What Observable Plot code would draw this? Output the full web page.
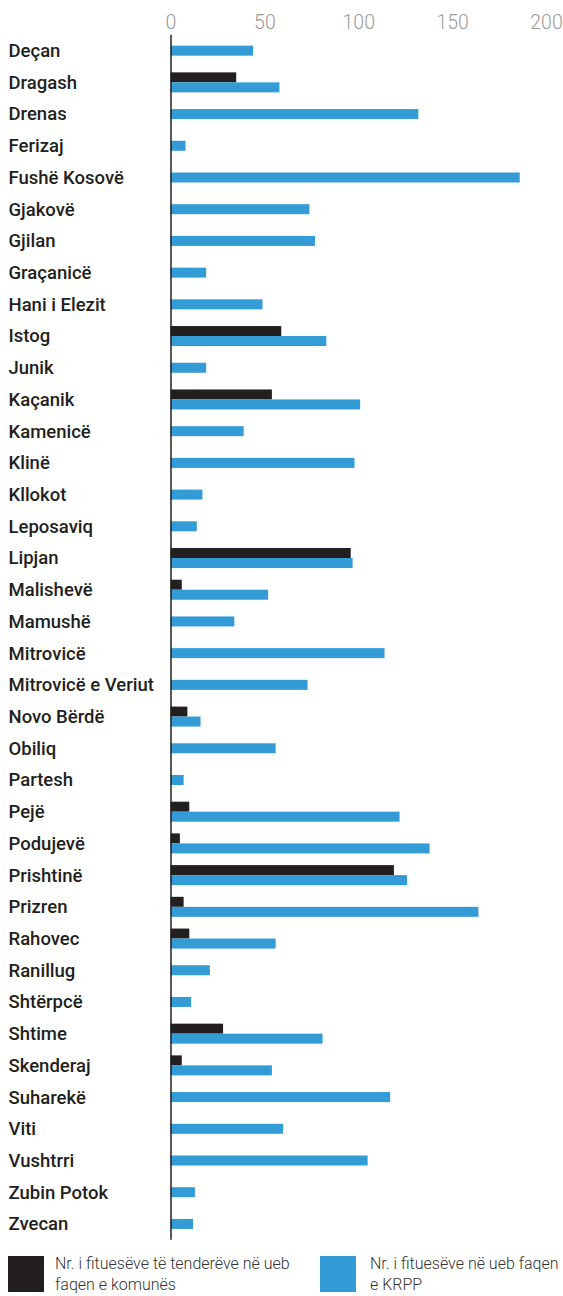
<!DOCTYPE html>
<html>
<head>
<meta charset="utf-8">
<script src="https://cdn.jsdelivr.net/npm/d3@7"></script>
<script src="https://cdn.jsdelivr.net/npm/@observablehq/plot@0.6"></script>
<style>
  body { margin: 0; background: #fff; font-family: Roboto, sans-serif; }
  #chart { width: 563px; }
  #chart svg { display: block; }
  .legend { position: relative; width: 563px; height: 50px; }
  .item { position: absolute; top: 11px; }
  .sw { position: absolute; left: 0; top: 0; width: 36px; height: 36px; }
  .lt { position: absolute; top: -2px; font-family: Roboto, sans-serif; font-weight: 300; font-size: 16px; line-height: 20.5px; color: #333; white-space: nowrap; }
</style>
</head>
<body>
<div id="chart"></div>
<div class="legend" id="legend"></div>
<script>
const municipalities = ["Deçan","Dragash","Drenas","Ferizaj","Fushë Kosovë","Gjakovë","Gjilan","Graçanicë","Hani i Elezit","Istog","Junik","Kaçanik","Kamenicë","Klinë","Kllokot","Leposaviq","Lipjan","Malishevë","Mamushë","Mitrovicë","Mitrovicë e Veriut","Novo Bërdë","Obiliq","Partesh","Pejë","Podujevë","Prishtinë","Prizren","Rahovec","Ranillug","Shtërpcë","Shtime","Skenderaj","Suharekë","Viti","Vushtrri","Zubin Potok","Zvecan"];
const komunaValues = [null,35,null,null,null,null,null,null,null,59,null,54,null,null,null,null,96,6,null,null,null,9,null,null,10,5,119,7,10,null,null,28,6,null,null,null,null,null];
const krppValues = [44,58,132,8,186,74,77,19,49,83,19,101,39,98,17,14,97,52,34,114,73,16,56,7,122,138,126,164,56,21,11,81,54,117,60,105,13,12];
const xTicks = [0,50,100,150,200];
const seriesNames = ["Nr. i fituesëve të tenderëve në ueb<br>faqen e komunës", "Nr. i fituesëve në ueb faqen<br>e KRPP"];
const seriesColors = ["#231f20", "#339bd6"];

const rows = municipalities.map((m, i) => ({m, komuna: komunaValues[i], krpp: krppValues[i]}));
const withBlack = rows.filter(r => r.komuna != null);
const blueOnly = rows.filter(r => r.komuna == null);

const step = 31.71;
const plotTop = 34.8;
const bottomEdge = plotTop + municipalities.length * step;
const H = Math.ceil(bottomEdge) + 5;
const inset = (step - 10) / 2;

const chart = Plot.plot({
  width: 563,
  height: H,
  marginLeft: 170.5,
  marginRight: 17,
  marginTop: plotTop,
  marginBottom: H - bottomEdge,
  x: {domain: [0, 200], axis: null},
  y: {domain: municipalities, padding: 0, round: false, axis: null},
  marks: [
    Plot.axisX({anchor: "top", ticks: xTicks, tickSize: 0, tickPadding: 6, label: null,
      fontSize: 19.5, fill: "#9a9a9a", fontFamily: "Roboto", fontWeight: 300}),
    Plot.axisY({anchor: "left", tickSize: 0, tickPadding: 162.5, textAnchor: "start", label: null,
      fontSize: 18.5, fontWeight: 500, fill: "#231f20", fontFamily: "Roboto, sans-serif"}),
    Plot.barX(withBlack, {x: "komuna", y: "m", fill: seriesColors[0], insetTop: inset, insetBottom: inset, dy: -5}),
    Plot.barX(withBlack, {x: "krpp", y: "m", fill: seriesColors[1], insetTop: inset, insetBottom: inset, dy: 5}),
    Plot.barX(blueOnly, {x: "krpp", y: "m", fill: seriesColors[1], insetTop: inset, insetBottom: inset}),
    Plot.ruleX([0], {stroke: "#231f20", strokeWidth: 1.5})
  ]
});
document.getElementById("chart").appendChild(chart);

const legend = document.getElementById("legend");
const lefts = [8, 320];
const textLefts = [47, 50];
seriesNames.forEach((name, i) => {
  const item = document.createElement("div");
  item.className = "item";
  item.style.left = lefts[i] + "px";
  item.innerHTML = `<div class="sw" style="background:${seriesColors[i]}"></div><div class="lt" style="left:${textLefts[i]}px">${name}</div>`;
  legend.appendChild(item);
});
</script>
</body>
</html>
